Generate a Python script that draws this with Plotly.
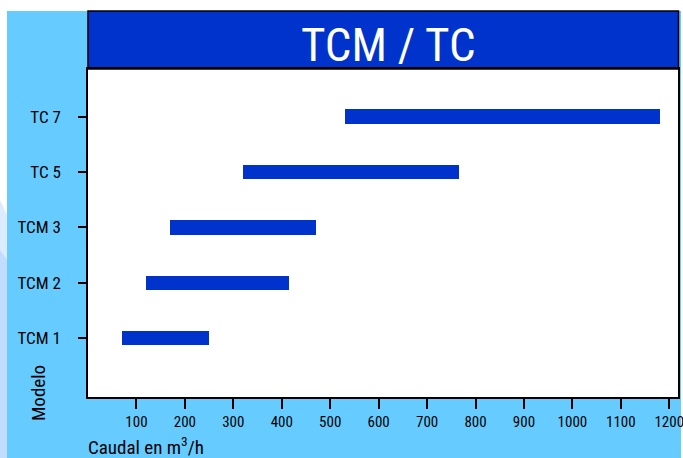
import plotly.graph_objects as go

# Data
models = ["TCM 1", "TCM 2", "TCM 3", "TC 5", "TC 7"]
flow_min = [70, 120, 170, 320, 530]
flow_max = [250, 415, 470, 765, 1180]
x_ticks = [100, 200, 300, 400, 500, 600, 700, 800, 900, 1000, 1100, 1200]

W, H = 683, 458
L, R, T, B = 88, 678, 69, 397  # plot area pixel box

def px(x):
    return (x - L) / (R - L)

def py(y):
    return (B - y) / (B - T)

FONT = "Roboto Condensed, DejaVu Sans Condensed, sans-serif"
DARK = "#0033CC"
LIGHT = "#66CCFF"
PALE = "#C2DCFF"

fig = go.Figure()
fig.add_trace(go.Bar(
    y=models,
    x=[b - a for a, b in zip(flow_min, flow_max)],
    base=flow_min,
    orientation="h",
    width=0.26,
    marker=dict(color=DARK, line=dict(width=0)),
    hoverinfo="skip",
))

shapes = [
    # left pale strip
    dict(type="rect", xref="paper", yref="paper", x0=px(0), x1=px(7), y0=py(215), y1=py(458),
         fillcolor=PALE, line=dict(width=0), layer="below"),
    dict(type="path", xref="paper", yref="paper",
         path=f"M {px(0)},{py(200)} L {px(7)},{py(215)} L {px(7)},{py(260)} L {px(0)},{py(250)} Z",
         fillcolor="#DDEBFF", line=dict(width=0), layer="below"),
    # light blue panel
    dict(type="rect", xref="paper", yref="paper", x0=px(7), x1=px(681), y0=py(11), y1=py(458),
         fillcolor=LIGHT, line=dict(width=0), layer="below"),
    # white plot area
    dict(type="rect", xref="paper", yref="paper", x0=0, x1=1, y0=0, y1=1,
         fillcolor="white", line=dict(width=0), layer="below"),
    # title box
    dict(type="rect", xref="paper", yref="paper", x0=px(88), x1=px(678.5), y0=py(69), y1=py(11),
         fillcolor=DARK, line=dict(color="black", width=1.5), layer="below"),
]

annotations = [
    dict(text="TCM / TC", xref="paper", yref="paper", x=px(388), y=py(44),
         xanchor="center", yanchor="middle", showarrow=False,
         font=dict(family=FONT, size=47, color="white")),
    dict(text="Modelo", xref="paper", yref="paper", x=px(38), y=py(393),
         xanchor="center", yanchor="middle", textangle=-90, showarrow=False,
         font=dict(family=FONT, size=19, color="black")),
    dict(text="Caudal en m<sup>3</sup>/h", xref="paper", yref="paper", x=px(86), y=py(446),
         xanchor="left", yanchor="middle", showarrow=False,
         font=dict(family=FONT, size=19, color="black")),
]

fig.update_layout(
    width=W, height=H,
    autosize=False,
    margin=dict(l=L, r=W - R, t=T, b=H - B, pad=0),
    paper_bgcolor="white",
    plot_bgcolor="rgba(0,0,0,0)",
    showlegend=False,
    shapes=shapes,
    annotations=annotations,
    bargap=0,
    xaxis=dict(
        range=[0, 1218], tickvals=x_ticks, ticktext=[str(v) for v in x_ticks],
        showgrid=False, zeroline=False, showline=True, linecolor="black", linewidth=1.5,
        mirror=True, ticks="outside", ticklen=10, tickwidth=2, tickcolor="black",
        tickfont=dict(family=FONT, size=15, color="black"), fixedrange=True,
        ticklabeloverflow="allow", automargin=False,
    ),
    yaxis=dict(
        categoryorder="array", categoryarray=models, range=[-1.06, 4.86],
        showgrid=False, zeroline=False, showline=True, linecolor="black", linewidth=1.5,
        mirror=True, ticks="outside", ticklen=8, tickwidth=2, tickcolor="black",
        tickfont=dict(family=FONT, size=17, color="black"), ticklabelstandoff=14,
        fixedrange=True, automargin=False,
    ),
)

fig.write_html(
    "out.html",
    config={"displayModeBar": False, "responsive": False},
    post_script=(
        "document.documentElement.style.overflow='hidden';"
        "document.body.style.overflow='hidden';"
        "document.body.style.margin='0';"
    ),
)
